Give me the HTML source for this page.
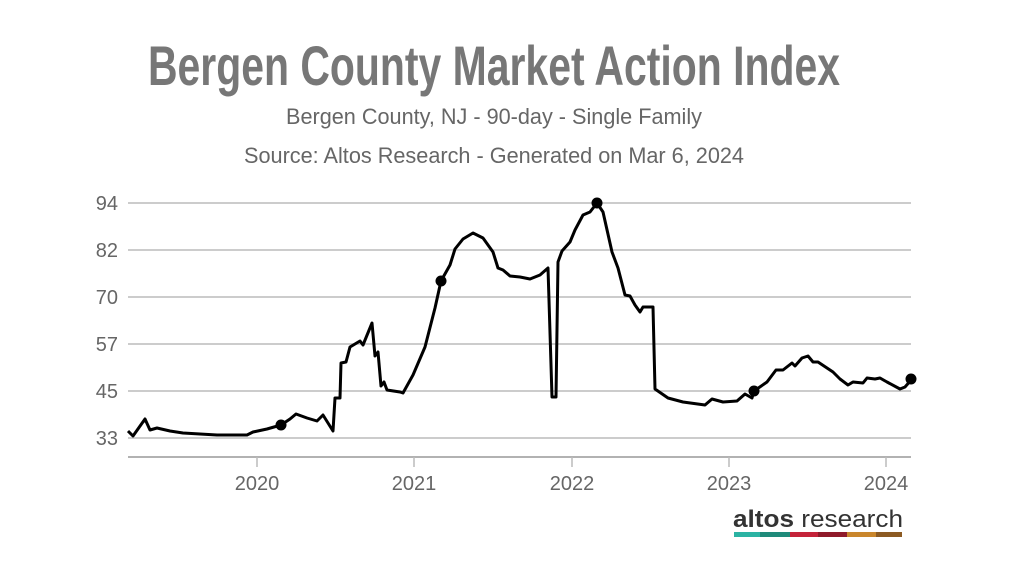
<!DOCTYPE html>
<html><head><meta charset="utf-8"><style>
body{margin:0;background:#fff;width:1022px;height:576px;overflow:hidden;font-family:"Liberation Sans Narrow","Liberation Sans",sans-serif;}
</style></head><body>
<svg width="1022" height="576" xmlns="http://www.w3.org/2000/svg">
<text x="494" y="85" text-anchor="middle" font-family="Liberation Sans Narrow, Liberation Sans, sans-serif" font-size="56" font-weight="bold" fill="#777" textLength="692" lengthAdjust="spacingAndGlyphs">Bergen County Market Action Index</text>
<text x="494" y="124" text-anchor="middle" font-family="Liberation Sans Narrow, Liberation Sans, sans-serif" font-size="22" fill="#666" textLength="416" lengthAdjust="spacingAndGlyphs">Bergen County, NJ - 90-day - Single Family</text>
<text x="494" y="163" text-anchor="middle" font-family="Liberation Sans Narrow, Liberation Sans, sans-serif" font-size="22" fill="#666" textLength="500" lengthAdjust="spacingAndGlyphs">Source: Altos Research - Generated on Mar 6, 2024</text>
<g stroke="#bbb" stroke-width="1.5">
<line x1="128" x2="911" y1="203" y2="203"/><line x1="128" x2="911" y1="250" y2="250"/><line x1="128" x2="911" y1="297" y2="297"/><line x1="128" x2="911" y1="344" y2="344"/><line x1="128" x2="911" y1="391" y2="391"/><line x1="128" x2="911" y1="438" y2="438"/>
<line x1="128" x2="911" y1="457" y2="457" stroke="#999"/>
<line x1="257" x2="257" y1="457" y2="467"/><line x1="414" x2="414" y1="457" y2="467"/><line x1="572" x2="572" y1="457" y2="467"/><line x1="729" x2="729" y1="457" y2="467"/><line x1="886" x2="886" y1="457" y2="467"/>
</g>
<g font-family="Liberation Sans Narrow, Liberation Sans, sans-serif" font-size="20" fill="#666" text-anchor="end">
<text x="118" y="210">94</text><text x="118" y="257">82</text><text x="118" y="304">70</text><text x="118" y="351">57</text><text x="118" y="398">45</text><text x="118" y="445">33</text>
</g>
<g font-family="Liberation Sans Narrow, Liberation Sans, sans-serif" font-size="20" fill="#666" text-anchor="middle">
<text x="257" y="490">2020</text><text x="414" y="490">2021</text><text x="572" y="490">2022</text><text x="729" y="490">2023</text><text x="886" y="490">2024</text>
</g>
<polyline fill="none" stroke="#000" stroke-width="3" stroke-linejoin="round" points="128,431 133,436 145,419 150,430 157,428 170,431 183,433 217,435 247,435 253,432 267,429 281,425 290,419 296,414 307,418 317,421 323,415 333,431 335,398 340,398 341,363 346,362 350,347 360,341 363,345 372,323 375,356 378,352 381,386 384,382 387,390 400,392 403,393 413,375 425,347 435,308 441,281 450,265 455,249 463,239 473,233 483,238 493,252 498,268 503,270 510,276 520,277 530,279 540,275 548,268 552,397 556,397 558,262 562,251 570,242 575,230 583,215 590,212 597,203 603,212 612,252 618,268 625,295 630,296 635,305 640,312 643,307 653,307 655,389 668,398 683,402 705,405 712,399 723,402 737,401 745,394 752,398 754,391 767,382 776,370 783,370 792,363 795,366 802,358 808,356 813,362 818,362 833,372 840,379 848,385 853,382 863,383 867,378 875,379 880,378 887,382 900,389 905,387 912,379"/>
<g fill="#000"><circle cx="281" cy="425" r="5.5"/><circle cx="441" cy="281" r="5.5"/><circle cx="597" cy="203" r="5.5"/><circle cx="754" cy="391" r="5.5"/><circle cx="911" cy="379" r="5.5"/></g>
<text x="733" y="527" font-family="Liberation Sans, sans-serif" font-size="24" fill="#333" textLength="170" lengthAdjust="spacingAndGlyphs"><tspan font-weight="bold">altos</tspan> research</text>
<g><rect x="734" y="532" width="26" height="5" fill="#2bb3a3"/><rect x="760" y="532" width="30" height="5" fill="#1f8a7a"/><rect x="790" y="532" width="28" height="5" fill="#c4233a"/><rect x="818" y="532" width="29" height="5" fill="#8f1a2a"/><rect x="847" y="532" width="29" height="5" fill="#c9862c"/><rect x="876" y="532" width="26" height="5" fill="#8c5a22"/></g>
</svg>
</body></html>
